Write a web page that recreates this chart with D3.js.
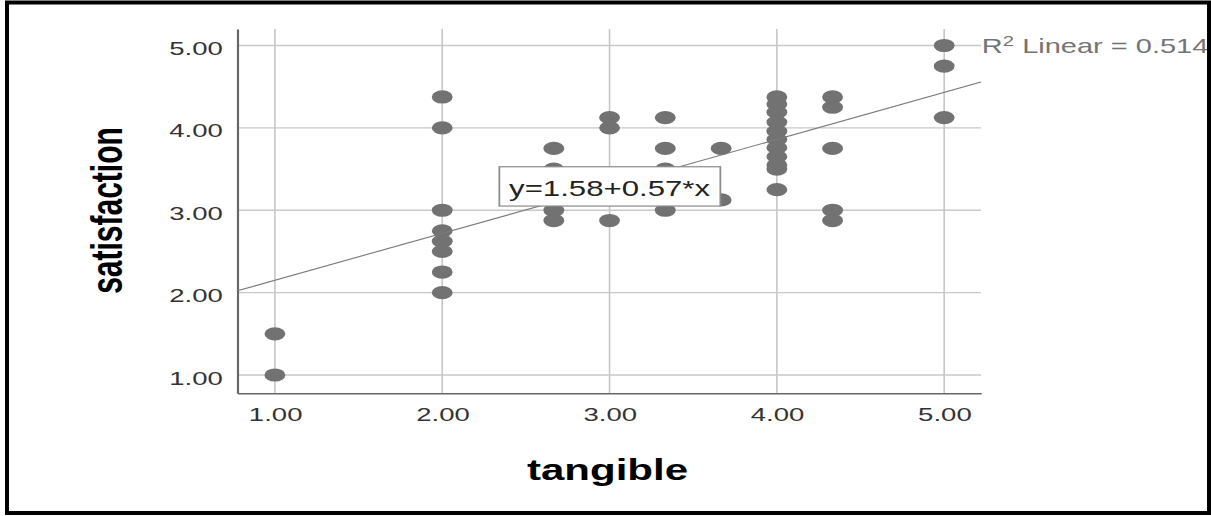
<!DOCTYPE html>
<html>
<head>
<meta charset="utf-8">
<script src="https://cdn.jsdelivr.net/npm/d3@7"></script>
<style>
  body { margin: 0; background: #fff; }
  text { font-family: "Liberation Sans", Arial, sans-serif; }
</style>
</head>
<body>
<svg id="canvas" width="1211" height="516"></svg>
<script>
// scatter of satisfaction vs tangible, with the linear fit
const tangible = [
  1, 1,
  2, 2, 2, 2, 2, 2, 2, 2,
  2.667, 2.667, 2.667, 2.667,
  3, 3, 3,
  3.333, 3.333, 3.333, 3.333,
  3.667, 3.667,
  4, 4, 4, 4, 4, 4, 4, 4, 4, 4, 4,
  4.333, 4.333, 4.333, 4.333, 4.333,
  5, 5, 5
];
const satisfaction = [
  1, 1.5,
  4.375, 4, 3, 2.75, 2.625, 2.5, 2.25, 2,
  3.75, 3.5, 3, 2.875,
  4.125, 4, 2.875,
  4.125, 3.75, 3.5, 3,
  3.75, 3.125,
  4.375, 4.29, 4.19, 4.07, 3.96, 3.86, 3.76, 3.65, 3.55, 3.5, 3.25,
  4.375, 4.25, 3.75, 3, 2.875,
  5, 4.75, 4.125
];
const xTicks = [1, 2, 3, 4, 5];
const yTicks = [1, 2, 3, 4, 5];
const intercept = 1.58;
const slope = 0.57;
const rSquared = 0.514;

const points = tangible.map((t, i) => ({ x: t, y: satisfaction[i] }));
const fmt = d3.format(".2f");

const canvas = d3.select("#canvas");

// the picture is stretched sideways, so draw into a squeezed viewBox
const chart = canvas
  .append("svg")
  .attr("width", 1211)
  .attr("height", 516)
  .attr("viewBox", "0 0 835 516")
  .attr("preserveAspectRatio", "none");

const x = d3.scaleLinear().domain([0.775, 5.22]).range([163.6, 676.4]);
const y = d3.scaleLinear().domain([0.778, 5.2]).range([393.3, 29]);

// grid
chart
  .selectAll(".vgrid")
  .data(xTicks)
  .enter()
  .append("line")
  .attr("class", "vgrid")
  .attr("x1", (d) => x(d))
  .attr("x2", (d) => x(d))
  .attr("y1", y(5.2))
  .attr("y2", y(0.778))
  .attr("stroke", "#c6c6c6")
  .attr("stroke-width", 1.1);

chart
  .selectAll(".hgrid")
  .data(yTicks)
  .enter()
  .append("line")
  .attr("class", "hgrid")
  .attr("x1", x(0.775))
  .attr("x2", x(5.22))
  .attr("y1", (d) => y(d))
  .attr("y2", (d) => y(d))
  .attr("stroke", "#c8c8c8")
  .attr("stroke-width", 1.3);

// axes
const xAxis = chart
  .append("g")
  .attr("transform", `translate(0,${y(0.778)})`)
  .call(
    d3.axisBottom(x).tickValues(xTicks).tickFormat(fmt).tickSize(0).tickPadding(14.7)
  );
const yAxis = chart
  .append("g")
  .attr("transform", `translate(${x(0.775)},0)`)
  .call(
    d3.axisLeft(y).tickValues(yTicks).tickFormat(fmt).tickSize(0).tickPadding(10)
  );

[xAxis, yAxis].forEach((g) => {
  g.select(".domain").attr("stroke", "#666").attr("stroke-width", 1.5);
  g.selectAll("text")
    .attr("fill", "#333")
    .style("font-size", "19px")
    .style("font-family", '"Liberation Sans", Arial, sans-serif');
});
yAxis.selectAll("text").attr("dy", "0.48em");

// points
chart
  .selectAll(".dot")
  .data(points)
  .enter()
  .append("ellipse")
  .attr("class", "dot")
  .attr("cx", (d) => x(d.x))
  .attr("cy", (d) => y(d.y))
  .attr("rx", 7.2)
  .attr("ry", 6.6)
  .attr("fill", "#727272");

// fit line
const fit = (v) => intercept + slope * v;
chart
  .append("line")
  .attr("x1", x(0.775))
  .attr("y1", y(fit(0.775)))
  .attr("x2", x(5.22))
  .attr("y2", y(fit(5.22)))
  .attr("stroke", "#7a7a7a")
  .attr("stroke-width", 1.1);

// equation label, centred on the line at x = 3
const eq = chart
  .append("g")
  .attr("transform", `translate(${x(3)},${y(fit(3))})`);
eq.append("rect")
  .attr("x", -76)
  .attr("y", -19.6)
  .attr("width", 152.4)
  .attr("height", 39.3)
  .attr("fill", "#fff")
  .attr("stroke", "#8a8a8a")
  .attr("stroke-width", 1.2);
eq.append("text")
  .attr("text-anchor", "middle")
  .attr("y", 10)
  .attr("fill", "#222")
  .style("font-size", "21.5px")
  .text(`y=${intercept.toFixed(2)}+${slope.toFixed(2)}*x`);

// R squared note at the top right
const r2 = chart
  .append("text")
  .attr("x", x(5.22) + 0.6)
  .attr("y", y(5) + 7.6)
  .attr("fill", "#747474")
  .style("font-size", "20px");
r2.append("tspan").text("R");
r2.append("tspan").attr("dy", -7).style("font-size", "14px").text("2");
r2.append("tspan").attr("dy", 7).text(` Linear = ${rSquared}`);

// axis titles
chart
  .append("text")
  .attr("x", 418.9)
  .attr("y", 480.5)
  .attr("text-anchor", "middle")
  .attr("fill", "#000")
  .style("font-size", "29px")
  .style("font-weight", "bold")
  .text("tangible");

chart
  .append("text")
  .attr("transform", "translate(84.1,210.5) rotate(-90)")
  .attr("text-anchor", "middle")
  .attr("fill", "#000")
  .style("font-size", "30px")
  .style("font-weight", "bold")
  .text("satisfaction");

// outer frame
canvas
  .append("rect")
  .attr("x", 7)
  .attr("y", 2.5)
  .attr("width", 1202)
  .attr("height", 510.5)
  .attr("fill", "none")
  .attr("stroke", "#000")
  .attr("stroke-width", 4);
</script>
</body>
</html>
